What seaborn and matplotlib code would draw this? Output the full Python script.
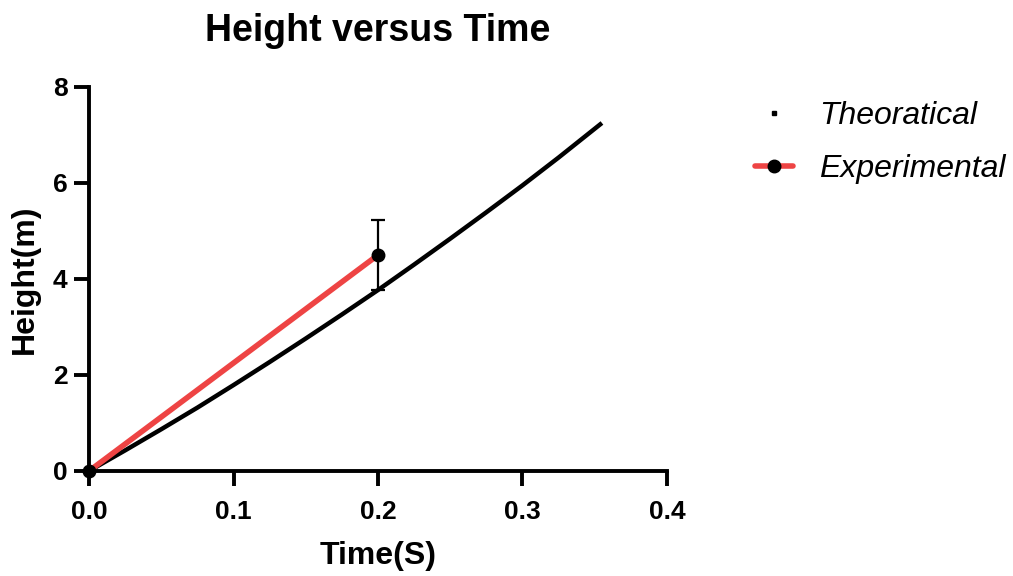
import matplotlib
matplotlib.use("Agg")
import matplotlib.pyplot as plt
import seaborn as sns
import pandas as pd
from matplotlib.lines import Line2D

# ---- data ----
theory_t = [0.0, 0.025, 0.05, 0.075, 0.1, 0.125, 0.15, 0.175, 0.2, 0.225, 0.25, 0.275, 0.3, 0.325, 0.355]
theory_h = [0.0, 0.43, 0.87, 1.32, 1.79, 2.27, 2.76, 3.26, 3.77, 4.30, 4.84, 5.39, 5.95, 6.53, 7.25]
exp_t = [0.0, 0.2]
exp_h = [0.0, 4.5]
exp_err = [0.0, 0.72]
series_names = ["Theoratical", "Experimental"]
title = "Height versus Time"
x_label = "Time(S)"
y_label = "Height(m)"
x_ticks = [0.0, 0.1, 0.2, 0.3, 0.4]
y_ticks = [0, 2, 4, 6, 8]

RED = "#EE4444"

sns.set_style("ticks")
plt.rcParams['font.family'] = ['Liberation Sans', 'DejaVu Sans']
plt.rcParams['text.color'] = 'black'
plt.rcParams['axes.labelcolor'] = 'black'
plt.rcParams['xtick.color'] = 'black'
plt.rcParams['ytick.color'] = 'black'

fig = plt.figure(figsize=(10.13, 5.76), dpi=100)
ax = fig.add_axes([0.0879, 0.1823, 0.5705, 0.6667])

theory_df = pd.DataFrame({"t": theory_t, "h": theory_h})
exp_df = pd.DataFrame({"t": exp_t, "h": exp_h})

sns.lineplot(data=theory_df, x="t", y="h", ax=ax, color="black", lw=3.2,
             solid_capstyle="butt", clip_on=False, zorder=3)
sns.lineplot(data=exp_df, x="t", y="h", ax=ax, color=RED, lw=4.0,
             clip_on=False, zorder=4)
ax.errorbar(exp_t, exp_h, yerr=exp_err, fmt="o", color="black", ms=9,
            elinewidth=1.6, capsize=5, capthick=1.6, clip_on=False, zorder=5)

ax.set_xlim(0, 0.4)
ax.set_ylim(0, 8)
ax.set_xticks(x_ticks)
ax.set_yticks(y_ticks)
ax.set_xticklabels([f"{v:.1f}" for v in x_ticks])
ax.set_yticklabels([str(v) for v in y_ticks])
ax.tick_params(axis="both", length=11, width=2.8, labelsize=19, color="black",
               labelcolor="black")
ax.tick_params(axis="x", pad=10)
ax.tick_params(axis="y", pad=4.5)
for lab in ax.get_xticklabels() + ax.get_yticklabels():
    lab.set_fontweight("bold")
for s in ["left", "bottom"]:
    ax.spines[s].set_linewidth(2.8)
    ax.spines[s].set_color("black")
sns.despine(ax=ax)

ax.set_xlabel(x_label, fontsize=23, fontweight="bold", labelpad=12)
ax.set_ylabel(y_label, fontsize=23, fontweight="bold", labelpad=9)
ax.set_title(title, fontsize=27, fontweight="bold", pad=33)

handles = [
    Line2D([], [], ls="none", marker="s", ms=2.5, color="black"),
    Line2D([], [], color=RED, lw=4, marker="o", ms=9, mfc="black", mec="black"),
]
leg = fig.legend(handles, series_names, loc="upper left",
                 bbox_to_anchor=(726 / 1013, 1 - 72 / 576), frameon=False,
                 prop={"size": 23, "style": "italic"}, handlelength=1.2,
                 handletextpad=0.8, labelspacing=0.72)

fig.savefig("out.png", dpi=100)
